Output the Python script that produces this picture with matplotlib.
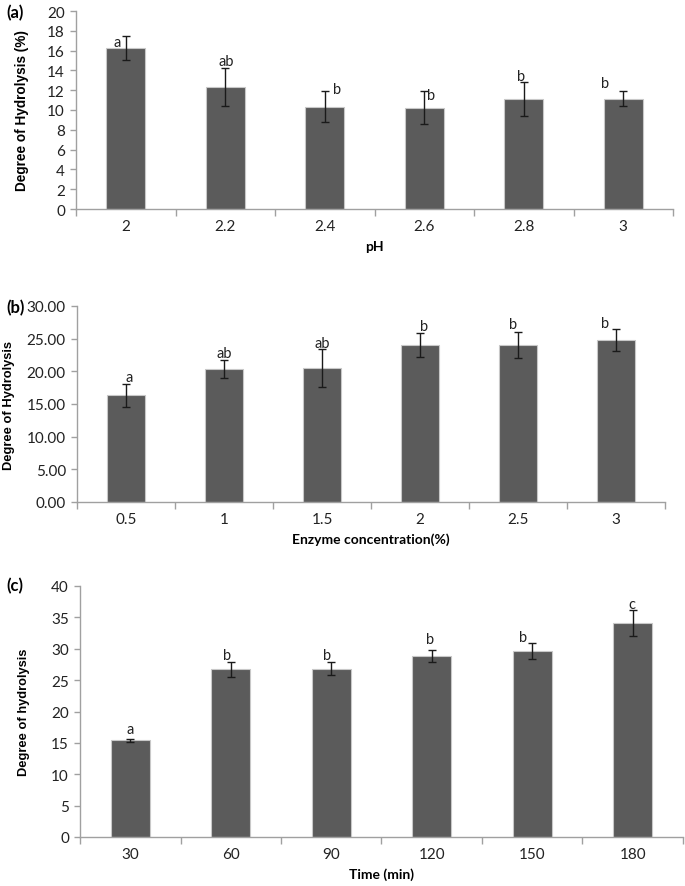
import matplotlib
matplotlib.use("Agg")
import matplotlib.pyplot as plt
import numpy as np

# ---------------- data ----------------
ph_labels = ["2", "2.2", "2.4", "2.6", "2.8", "3"]
ph_values = [16.3, 12.3, 10.35, 10.25, 11.1, 11.15]
ph_errors = [1.2, 1.9, 1.6, 1.65, 1.75, 0.75]
ph_letters = ["a", "ab", "b", "b", "b", "b"]

enz_labels = ["0.5", "1", "1.5", "2", "2.5", "3"]
enz_values = [16.35, 20.4, 20.5, 24.0, 24.0, 24.8]
enz_errors = [1.75, 1.4, 2.9, 1.85, 2.0, 1.65]
enz_letters = ["a", "ab", "ab", "b", "b", "b"]

time_labels = ["30", "60", "90", "120", "150", "180"]
time_values = [15.4, 26.75, 26.8, 28.9, 29.6, 34.1]
time_errors = [0.2, 1.2, 1.05, 0.95, 1.25, 2.0]
time_letters = ["a", "b", "b", "b", "b", "c"]

# ---------------- style ----------------
BAR = "#5b5b5b"
EDGE = "#c8c8c8"
AXC = "#a0a0a0"
TICKFONT = "Lato"
W, H = 685, 887

fig = plt.figure(figsize=(W / 100, H / 100), dpi=100)


def axes_px(l, r, top, bot):
    return fig.add_axes([l / W, 1 - bot / H, (r - l) / W, (bot - top) / H])


def panel(ax, labels, values, errors, letters, ymax, step, fmt, ylabel, xlabel,
          letter_dx, letter_dy, ylab_right_px, ylab_size, xlab_pad, left_px, right_px):
    x = np.arange(len(labels))
    ax.bar(x, values, width=0.39, color=BAR, edgecolor=EDGE, linewidth=0.8, zorder=2)
    ax.errorbar(x, values, yerr=errors, fmt="none", ecolor="#1a1a1a",
                elinewidth=1.0, capsize=2.6, capthick=1.0, zorder=3)
    for i, (v, e, t) in enumerate(zip(values, errors, letters)):
        ax.annotate(t, (x[i], v + e), xytext=(letter_dx[i], letter_dy[i]),
                    textcoords="offset pixels", ha="center", va="baseline",
                    fontsize=10.5, family=TICKFONT, color="#222222")
    ax.set_xlim(-0.5, len(labels) - 0.5)
    ax.set_ylim(0, ymax)
    yt = np.arange(0, ymax + step / 2, step)
    ax.set_yticks(yt)
    ax.set_yticklabels([fmt.format(v) for v in yt], family=TICKFONT, fontsize=11,
                       color="#222222")
    ax.set_xticks(x)
    ax.set_xticklabels(labels, family=TICKFONT, fontsize=11, color="#222222")
    ax.set_xticks(np.arange(-0.5, len(labels) + 0.5, 1.0), minor=True)
    ax.tick_params(axis="x", which="major", length=0, pad=7)
    ax.tick_params(axis="x", which="minor", length=5, color=AXC, width=1)
    ax.tick_params(axis="y", length=4, color=AXC, width=1, pad=4)
    for s in ["top", "right"]:
        ax.spines[s].set_visible(False)
    for s in ["left", "bottom"]:
        ax.spines[s].set_color(AXC)
        ax.spines[s].set_linewidth(1)
    ax.set_xlabel(xlabel, family="Lato", fontweight="bold", fontsize=10,
                  labelpad=xlab_pad)
    ax.set_ylabel(ylabel, family="Liberation Sans", fontweight="bold", fontsize=ylab_size)
    ax.yaxis.set_label_coords((ylab_right_px - left_px) / (right_px - left_px), 0.5)


# panel (a)
ax1 = axes_px(76, 673, 12, 210)
panel(ax1, ph_labels, ph_values, ph_errors, ph_letters, 20, 2, "{:.0f}",
      "Degree of Hydrolysis (%)", "pH",
      [-9, 1, 12, 7, -3, -18], [-10, 3, -2, -7.5, 2, 4.5], 29, 9.8, 5, 76, 673)

# panel (b)
ax2 = axes_px(77, 665, 307, 503)
panel(ax2, enz_labels, enz_values, enz_errors, enz_letters, 30, 5, "{:.2f}",
      "Degree of Hydrolysis", "Enzyme concentration(%)",
      [3, 0, 0, 4, -5, -11], [3, 2.5, 2, 3.5, 4.5, 2.5], 15, 9.3, 5, 77, 665)

# panel (c)
ax3 = axes_px(80, 683, 587, 838)
panel(ax3, time_labels, time_values, time_errors, time_letters, 40, 5, "{:.0f}",
      "Degree of hydrolysis", "Time (min)",
      [0, -4, -4, -2, -9, -1], [6.5, 3, 3, 6.5, 2.5, 2.5], 30, 9.3, 5, 80, 683)

for lab, yy in [("(a)", 13), ("(b)", 308), ("(c)", 586)]:
    fig.text(6 / W, 1 - yy / H, lab, fontsize=12, fontweight="bold",
             family="Lato", ha="left", va="center")

fig.savefig("out.png", dpi=100, facecolor="white")
